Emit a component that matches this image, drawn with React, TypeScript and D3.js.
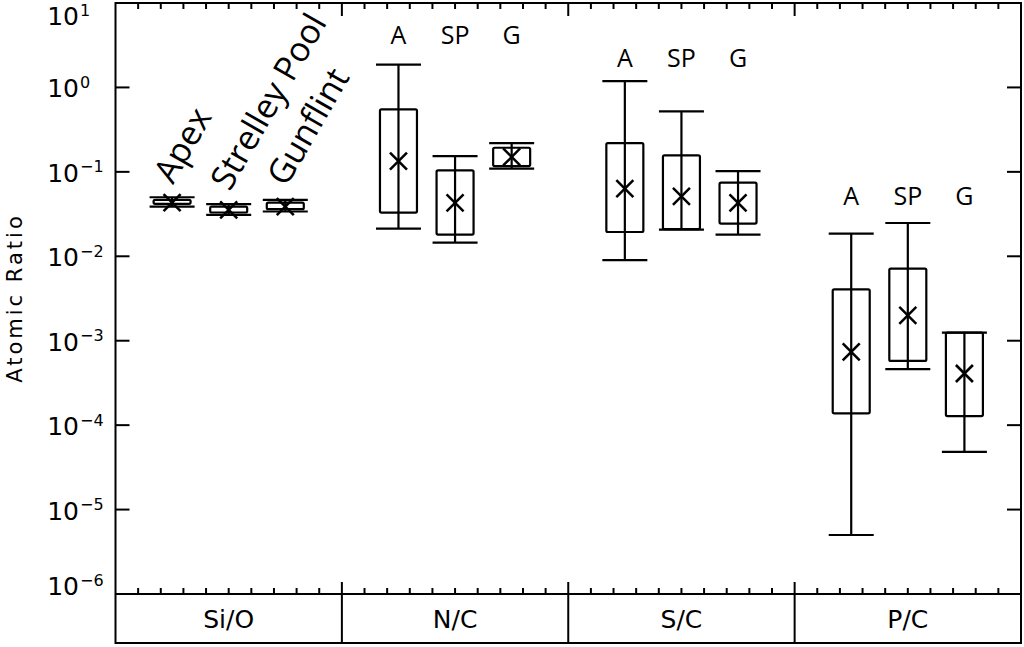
import React from "react";
import * as d3 from "d3";

const categories = ["Si/O", "N/C", "S/C", "P/C"];
const samples = ["Apex", "Strelley Pool", "Gunflint"];
const sampleShort = ["A", "SP", "G"];

// values per category [Si/O, N/C, S/C, P/C]
const apexLow = [0.0388, 0.0213, 0.009, 5.0e-6];
const apexQ1 = [0.0418, 0.0329, 0.0194, 0.000138];
const apexMid = [0.0433, 0.134, 0.0632, 0.000736];
const apexQ3 = [0.0466, 0.55, 0.219, 0.00406];
const apexHigh = [0.05, 1.86, 1.19, 0.0186];

const spLow = [0.031, 0.0145, 0.0207, 0.00046];
const spQ1 = [0.033, 0.0181, 0.021, 0.000577];
const spMid = [0.0355, 0.0428, 0.0513, 0.002];
const spQ3 = [0.0388, 0.104, 0.157, 0.00715];
const spHigh = [0.0414, 0.154, 0.52, 0.0248];

const gLow = [0.0339, 0.109, 0.0181, 4.83e-5];
const gQ1 = [0.0361, 0.117, 0.0244, 0.000128];
const gMid = [0.0388, 0.15, 0.0428, 0.000409];
const gQ3 = [0.0432, 0.193, 0.0745, 0.00125];
const gHigh = [0.0466, 0.219, 0.102, 0.00125];

// group label heights (data units) for A / SP / G labels
const groupLabelLevel = [NaN, 3.3, 1.75, 0.04];

const yTickExponents = [-6, -5, -4, -3, -2, -1, 0, 1];

const series = [
  { low: apexLow, q1: apexQ1, mid: apexMid, q3: apexQ3, high: apexHigh },
  { low: spLow, q1: spQ1, mid: spMid, q3: spQ3, high: spHigh },
  { low: gLow, q1: gQ1, mid: gMid, q3: gQ3, high: gHigh },
];
const sampleOffsets = [0.25, 0.5, 0.75];

export default function App() {
  const W = 1024, H = 647;
  const left = 115.5, right = 1021, top = 3, plotBottom = 594, bottom = 643;
  const x = d3.scaleLinear().domain([0, 4]).range([left, right]);
  const y = d3.scaleLog().domain([1e-6, 10]).range([plotBottom, top]);
  const boxHalf = 18.5, capHalf = 22.5, xm = 8.5;
  const sw = 2.2;
  const minorX = d3.range(1, 40).filter((i) => i % 10 !== 0).map((i) => i / 10);
  const majorX = [1, 2, 3];
  const axisFont = "'DejaVu Sans', sans-serif";
  const labelFont = "'Open Sans', sans-serif";

  const marks: React.ReactNode[] = [];
  categories.forEach((_, ci) => {
    series.forEach((s, si) => {
      const cx = x(ci + sampleOffsets[si]);
      const yl = y(s.low[ci]), yq1 = y(s.q1[ci]), ym = y(s.mid[ci]), yq3 = y(s.q3[ci]), yh = y(s.high[ci]);
      marks.push(
        <g key={`b${ci}-${si}`} stroke="#000" strokeWidth={sw} fill="none" strokeLinejoin="round">
          <line x1={cx} x2={cx} y1={yh} y2={yl} />
          <line x1={cx - capHalf} x2={cx + capHalf} y1={yh} y2={yh} />
          <line x1={cx - capHalf} x2={cx + capHalf} y1={yl} y2={yl} />
          <rect x={cx - boxHalf} y={yq3} width={boxHalf * 2} height={Math.max(0, yq1 - yq3)} rx={1.5} />
          <line x1={cx - xm} x2={cx + xm} y1={ym - xm} y2={ym + xm} strokeWidth={2.5} />
          <line x1={cx - xm} x2={cx + xm} y1={ym + xm} y2={ym - xm} strokeWidth={2.5} />
        </g>
      );
    });
  });

  return (
    <svg width={W} height={H} style={{ position: "absolute", left: 0, top: 0, background: "#fff" }}>
      <rect x={0} y={0} width={W} height={H} fill="#fff" />
      {marks}
      {/* group labels A SP G */}
      {categories.map((_, ci) =>
        ci === 0
          ? null
          : sampleShort.map((lab, si) => (
              <text
                key={`gl${ci}-${si}`}
                x={x(ci + sampleOffsets[si])}
                y={y(groupLabelLevel[ci])}
                textAnchor="middle"
                fontFamily={labelFont}
                fontSize={25}
              >
                {lab}
              </text>
            ))
      )}
      {/* rotated sample names over Si/O */}
      {samples.map((name, si) => {
        const bx = x(sampleOffsets[si]) + 1;
        const by = y(series[si].high[0]) - 12;
        return (
          <text
            key={`sn${si}`}
            transform={`translate(${bx},${by}) rotate(-60)`}
            fontFamily={labelFont}
            fontSize={34}
          >
            {name}
          </text>
        );
      })}
      {/* frame */}
      <g stroke="#000" strokeWidth={2} fill="none">
        <rect x={left} y={top} width={right - left} height={bottom - top} />
        <line x1={left} x2={right} y1={plotBottom} y2={plotBottom} />
        {majorX.map((v) => (
          <g key={`mx${v}`}>
            <line x1={x(v)} x2={x(v)} y1={plotBottom - 12} y2={bottom} />
            <line x1={x(v)} x2={x(v)} y1={top} y2={top + 13} />
          </g>
        ))}
        {minorX.map((v) => (
          <g key={`mn${v}`}>
            <line x1={x(v)} x2={x(v)} y1={plotBottom} y2={plotBottom - 6} />
            <line x1={x(v)} x2={x(v)} y1={top} y2={top + 6} />
          </g>
        ))}
        {yTickExponents.map((e) => (
          <g key={`yt${e}`}>
            <line x1={left} x2={left + 14} y1={y(Math.pow(10, e))} y2={y(Math.pow(10, e))} />
            <line x1={right} x2={right - 14} y1={y(Math.pow(10, e))} y2={y(Math.pow(10, e))} />
          </g>
        ))}
      </g>
      {/* y tick labels */}
      {yTickExponents.map((e) => {
        const t = y(Math.pow(10, e));
        // keep the end labels inside the frame, as in the reference
        const ty = Math.min(Math.max(t, top + 12), plotBottom - 9);
        const sup = e < 0 ? `\u2212${-e}` : `${e}`;
        return (
          <g key={`yl${e}`} fontFamily={axisFont}>
            <text x={79} y={ty + 10} textAnchor="end" fontSize={25}>
              10
            </text>
            <text x={80} y={ty + 0.5} textAnchor="start" fontSize={16}>
              {sup}
            </text>
          </g>
        );
      })}
      {/* y axis title */}
      <text
        transform={`translate(22,298) rotate(-90)`}
        textAnchor="middle"
        fontFamily={axisFont}
        fontSize={21}
        letterSpacing={3}
      >
        Atomic Ratio
      </text>
      {/* category labels */}
      {categories.map((c, ci) => (
        <text
          key={`c${ci}`}
          x={x(ci + 0.5)}
          y={(plotBottom + bottom) / 2 + 9}
          textAnchor="middle"
          fontFamily={axisFont}
          fontSize={25}
        >
          {c}
        </text>
      ))}
    </svg>
  );
}
